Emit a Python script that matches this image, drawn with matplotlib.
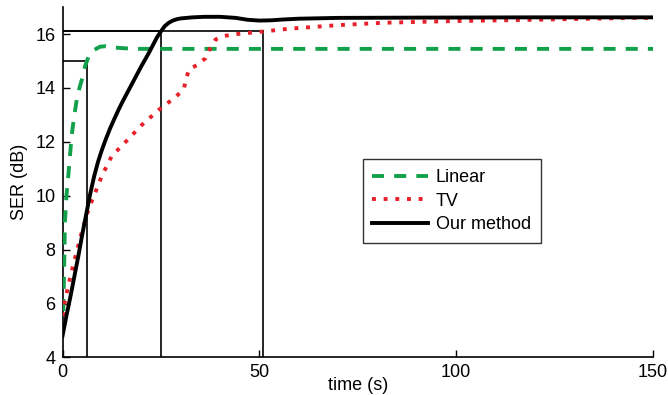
import matplotlib
matplotlib.use("Agg")
import matplotlib.pyplot as plt

plt.rcParams['font.family'] = ['Liberation Sans', 'DejaVu Sans']

# Linear (green dashed)
lin_t = [0, 0.2, 0.4, 0.6, 1.0, 1.5, 2.3, 3.0, 3.6, 4.3, 4.9, 5.7, 6.6, 7.9, 9.5, 11, 13, 17, 20, 150]
lin_v = [4.9, 5.8, 7.2, 9.0, 10.0, 10.8, 12.2, 13.0, 13.55, 14.0, 14.3, 14.8, 15.16, 15.4, 15.53, 15.55, 15.5, 15.46, 15.45, 15.45]

# TV (red dotted)
tv_t = [0, 0.6, 2.0, 3.2, 5.0, 6.6, 8.0, 10.0, 12.5, 16.3, 20.1, 24.4, 28.6, 30.8, 31.5, 32.2, 34.2, 36.3, 37.6,
        38.9, 41, 44.3, 50, 57.7, 69.9, 81.6, 98.7, 119.9, 145, 150]
tv_v = [5.1, 6.1, 7.0, 7.7, 8.7, 9.5, 10.0, 10.74, 11.47, 12.04, 12.62, 13.18, 13.65, 13.95, 14.4, 14.7, 14.85, 15.1, 15.5,
        15.8, 15.93, 16.0, 16.08, 16.2, 16.33, 16.42, 16.48, 16.53, 16.6, 16.6]

# Our method (black solid)
our_t = [0, 1, 2, 3, 4, 5, 6, 7, 8, 9, 10, 11, 12, 13, 14, 15, 16, 18, 20, 22, 23, 24, 25, 26, 27, 28, 29, 30,
         33, 36, 40, 44, 47, 50, 53, 56, 60, 70, 90, 120, 150]
our_v = [4.8, 5.55, 6.25, 7.0, 7.75, 8.55, 9.3, 10.05, 10.7, 11.25, 11.7, 12.1, 12.47, 12.8, 13.12, 13.42, 13.7,
         14.25, 14.8, 15.32, 15.6, 15.88, 16.1, 16.3, 16.42, 16.5, 16.55, 16.58,
         16.62, 16.64, 16.64, 16.6, 16.53, 16.5, 16.51, 16.54, 16.57, 16.6, 16.61, 16.62, 16.62]

# Marker lines (time to reach level)
mark_t = [6.3, 25, 51]
mark_level = [15.0, 16.1, 16.1]

fig = plt.figure(figsize=(6.68, 3.95), dpi=100)
ax = fig.add_axes([0.0936, 0.0952, 0.884, 0.8868])

for t, lv in zip(mark_t, mark_level):
    ax.plot([t, t], [4, lv], color='black', lw=1.2, zorder=1)
    ax.plot([0, t], [lv, lv], color='black', lw=1.2, zorder=1)

ax.plot(lin_t, lin_v, color='#12a04a', lw=2.8, ls=(0, (3.1, 2.6)), label='Linear', zorder=3)
ax.plot(tv_t, tv_v, color='#e8202a', lw=2.8, ls=(0, (1, 2.0)), label='TV', zorder=3)
ax.plot(our_t, our_v, color='black', lw=2.8, label='Our method', zorder=4)

ax.set_xlim(0, 150)
ax.set_ylim(4, 17)
ax.set_xticks([0, 50, 100, 150])
ax.set_yticks([4, 6, 8, 10, 12, 14, 16])
ax.tick_params(direction='in', length=5, width=1, labelsize=13, pad=5)
ax.spines['top'].set_visible(False)
ax.spines['right'].set_visible(False)
for s in ['left', 'bottom']:
    ax.spines[s].set_linewidth(1.2)
ax.set_xlabel('time (s)', fontsize=13, va='bottom')
ax.xaxis.set_label_coords(0.5, -0.104)
ax.set_ylabel('SER (dB)', fontsize=13)
ax.yaxis.set_label_coords(-0.058, 0.5)

leg = ax.legend(loc='upper left', bbox_to_anchor=(0.508, 0.565), borderaxespad=0,
                fontsize=13, frameon=True, fancybox=False, handlelength=3.05,
                handletextpad=0.45, labelspacing=0.35, borderpad=0.55)
leg.get_frame().set_edgecolor('black')
leg.get_frame().set_linewidth(1.0)

fig.savefig('out.png', dpi=100)
